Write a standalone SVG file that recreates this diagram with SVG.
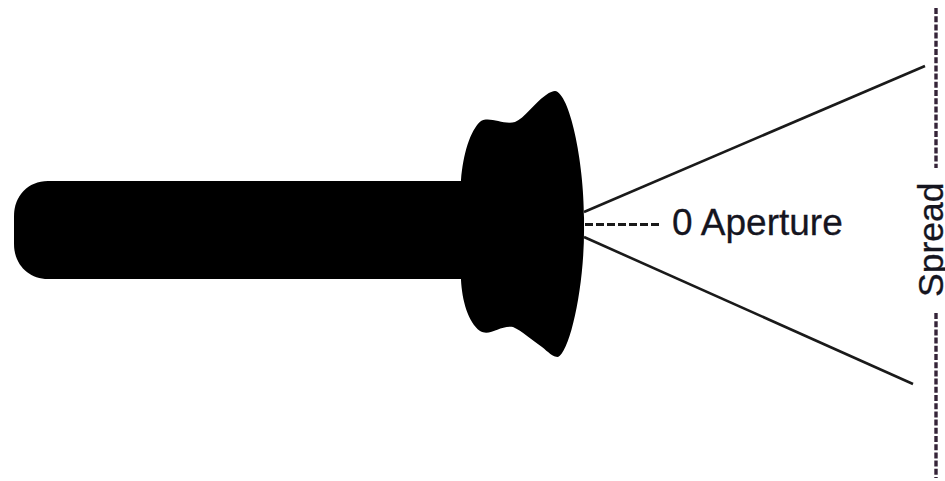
<svg xmlns="http://www.w3.org/2000/svg" width="945" height="481" viewBox="0 0 945 481">
<style>
.t{font-family:"Liberation Sans",Arial,sans-serif;fill:#15151f;stroke:#15151f;stroke-width:.3}
.a{font-size:37px}
.s{font-size:35.5px}
.l{fill:none;stroke:#1a1a1a;stroke-width:2.6}
.d{fill:none;stroke:#1a1a1a;stroke-width:3;stroke-dasharray:8 3}
.v{fill:none;stroke:#352438;stroke-width:3.4;stroke-dasharray:6 2.2}
</style>
<rect width="945" height="481" fill="#fff"/>
<g id="nozzle">
<path fill="#000" d="M470 181H48C28 181 14 196 14 216V244C14 264 28 279 48 279H470Z"/>
<path fill="#000" d="M461 180C463 155 470 130 481 121C490 116 503 125 515 122C525 118 532 105 546 95C550 92 553 91 555 91C570 93 585 165 584 224C585 285 570 352 558 357C553 357 548 352 542 347C532 340 522 331 513 327C500 325 490 337 480 331C468 322 462 300 461 280Z"/>
</g>
<g id="connectors">
<path class="l" d="M584 212L925 66"/>
<path class="l" d="M584 237L913 384"/>
<path class="d" d="M585 224.500H661"/>
<path class="v" d="M936 8V168"/>
<path class="v" d="M936 313V478"/>
</g>
<g id="aperture-label"><text class="t a" x="672" y="235">0 Aperture</text></g>
<g id="spread-label"><text class="t s" transform="translate(943 297) rotate(-90)">Spread</text></g>
</svg>
